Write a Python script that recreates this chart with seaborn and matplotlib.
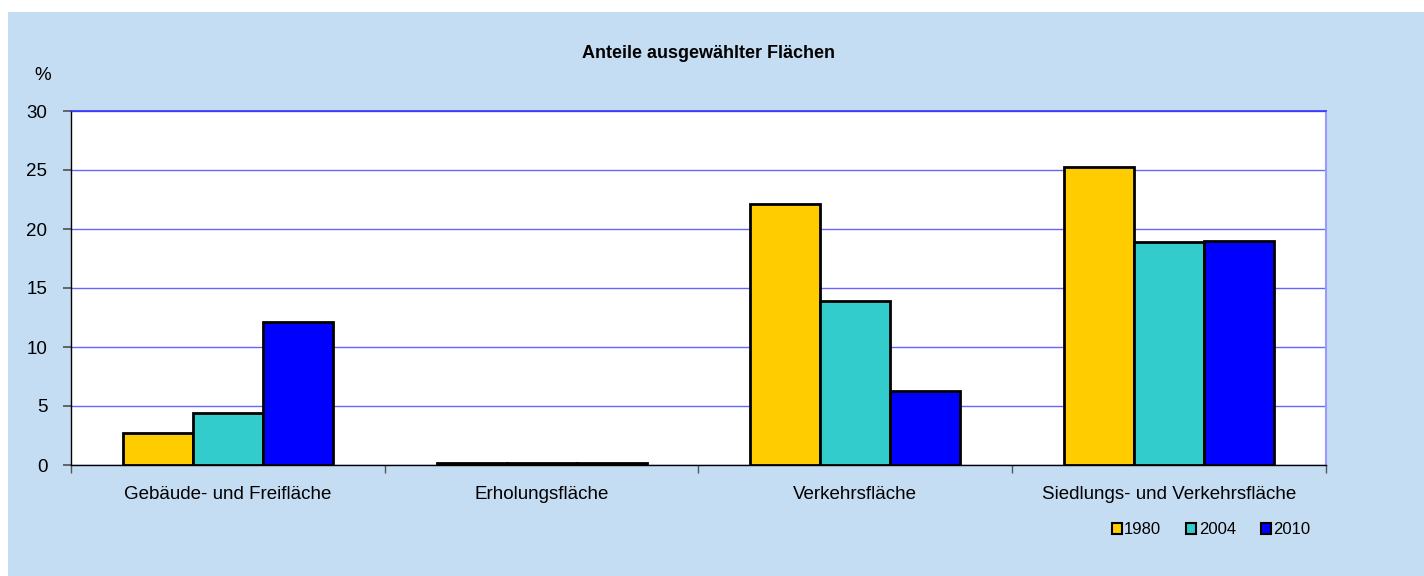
import numpy as np
import pandas as pd
import matplotlib
matplotlib.use("Agg")
import matplotlib.pyplot as plt
import seaborn as sns
from matplotlib.patches import Rectangle

# Data
categories = ["Gebäude- und Freifläche", "Erholungsfläche",
              "Verkehrsfläche", "Siedlungs- und Verkehrsfläche"]
years = ["1980", "2004", "2010"]
values_1980 = [2.75, 0.15, 22.1, 25.25]
values_2004 = [4.4, 0.17, 13.9, 18.9]
values_2010 = [12.1, 0.17, 6.3, 18.95]
colors = ["#FFCC00", "#33CCCC", "#0000FF"]

df = pd.DataFrame({
    "Fläche": categories * 3,
    "Jahr": [y for y in years for _ in categories],
    "Wert": values_1980 + values_2004 + values_2010,
})

sns.set_theme(style="white")
plt.rcParams["font.family"] = ["Liberation Sans", "DejaVu Sans"]
plt.rcParams["text.color"] = "black"
plt.rcParams["xtick.color"] = "black"
plt.rcParams["ytick.color"] = "black"

fig = plt.figure(figsize=(14.24, 5.76), dpi=100)
fig.patch.set_facecolor("white")
# blue chart area background
fig.patches.append(Rectangle((8 / 1424, 0), 1, 1 - 12 / 576, transform=fig.transFigure,
                             facecolor="#C5DDF3", edgecolor="none", zorder=-10))

ax = fig.add_axes([71 / 1424, 1 - 465 / 576, (1326 - 71) / 1424, (465 - 111) / 576])
ax.set_facecolor("white")

sns.barplot(data=df, x="Fläche", y="Wert", hue="Jahr", palette=colors,
            saturation=1, edgecolor="black", linewidth=2, width=0.67,
            ax=ax, legend=True)

ax.set_ylim(0, 30)
ax.set_xlim(-0.5, 3.5)
ax.set_yticks(range(0, 31, 5))
ax.yaxis.grid(True, color="#6666FF", linewidth=1)
ax.set_axisbelow(True)
ax.set_xlabel("")
ax.set_ylabel("")

for s in ["left", "bottom"]:
    ax.spines[s].set_color("black")
    ax.spines[s].set_linewidth(1)
ax.spines["top"].set_color("#3333FF")
ax.spines["top"].set_linewidth(1.2)
ax.spines["right"].set_color("#9999FF")
ax.spines["right"].set_linewidth(1.5)

ax.tick_params(axis="y", labelsize=13.5, length=6, direction="out", left=True,
               color="#555555", pad=11, labelcolor="black")
ax.tick_params(axis="x", which="major", labelsize=13.5, length=0, pad=15,
               labelcolor="black")
ax.set_xticks(np.arange(-0.5, 3.6, 1), minor=True)
ax.tick_params(axis="x", which="minor", length=6, bottom=True, color="#555555")

fig.text(708 / 1424, 1 - 53 / 576, "Anteile ausgewählter Flächen",
         ha="center", va="center", fontsize=13, fontweight="bold", color="black")
fig.text(43 / 1424, 1 - 75 / 576, "%", ha="center", va="center", fontsize=13.5,
         color="black")

handles, labels = ax.get_legend_handles_labels()
ax.get_legend().remove()
leg = fig.legend(handles, labels, loc="center", ncol=3, frameon=False,
                 bbox_to_anchor=(1211 / 1424, 1 - 530 / 576), fontsize=12,
                 handlelength=0.6, handleheight=0.6, handletextpad=0.15,
                 columnspacing=1.5)
for p in leg.get_patches():
    p.set_linewidth(1.5)
for t in leg.get_texts():
    t.set_color("black")

fig.savefig("out.png", dpi=100)
